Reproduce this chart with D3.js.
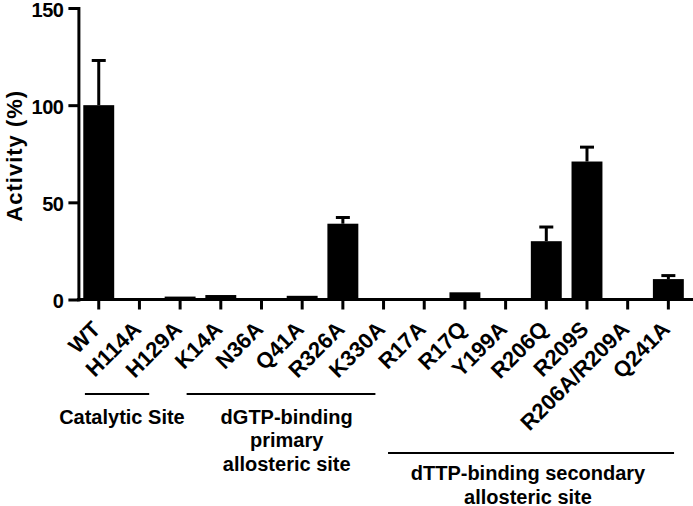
<!DOCTYPE html>
<html>
<head>
<meta charset="utf-8">
<script src="https://cdn.jsdelivr.net/npm/d3@7"></script>
<style>
  html, body { margin: 0; padding: 0; background: #fff; }
  svg { display: block; }
  text { font-family: "Liberation Sans", Arial, Helvetica, sans-serif; font-weight: bold; fill: #000; }
</style>
</head>
<body>
<svg id="chart" width="693" height="506"></svg>
<script>
// ---- data ----
const categories = ["WT","H114A","H129A","K14A","N36A","Q41A","R326A","K330A","R17A","R17Q","Y199A","R206Q","R209S","R206A/R209A","Q241A"];
const activity   = [100, 0, 1.5, 2.3, 0, 1.9, 39, 0, 0, 3.7, 0, 30, 71, 0, 10.5];
const errorUpper = [23, 0, 0, 0, 0, 0, 3.2, 0, 0, 0, 0, 7.3, 7.4, 0, 1.8];
const yTicks = [0, 50, 100, 150];
const yLabel = "Activity (%)";
// group annotations, spans in category-index units
const groupNames = [["Catalytic Site"], ["dGTP-binding", "primary", "allosteric site"], ["dTTP-binding secondary", "allosteric site"]];
const groupStart = [0.16, 2.66, 7.61];
const groupEnd   = [1.74, 7.30, 14.64];
const groupCenter = [1.07, 5.12, 11.05];
const groupRow = [0, 0, 1];

// ---- layout ----
const svg = d3.select("#chart");
const plotLeft = 78.4, plotRight = 688.7, plotTop = 8, plotBottom = 299.5;

const x = d3.scaleBand().domain(categories).range([plotLeft, plotRight]).paddingInner(0.24).paddingOuter(0.12);
const y = d3.scaleLinear().domain([0, 150]).range([plotBottom, plotTop]);
const gx = d3.scaleLinear().domain([0, categories.length]).range([plotLeft, plotRight]);

// bars
svg.append("g").selectAll("rect").data(categories).join("rect")
  .attr("x", d => x(d))
  .attr("width", x.bandwidth())
  .attr("y", (d, i) => y(activity[i]))
  .attr("height", (d, i) => y(0) - y(activity[i]))
  .attr("fill", "#000");

// error bars
const eb = svg.append("g").attr("stroke", "#000").attr("stroke-width", 3);
categories.forEach((c, i) => {
  if (errorUpper[i] <= 0) return;
  const cx = x(c) + x.bandwidth() / 2;
  eb.append("line").attr("x1", cx).attr("x2", cx)
    .attr("y1", y(activity[i])).attr("y2", y(activity[i] + errorUpper[i]));
  eb.append("line").attr("x1", cx - 7).attr("x2", cx + 7)
    .attr("y1", y(activity[i] + errorUpper[i])).attr("y2", y(activity[i] + errorUpper[i]));
});

// y axis
const yAxis = svg.append("g").attr("transform", `translate(${plotLeft},0)`)
  .call(d3.axisLeft(y).tickValues(yTicks).tickSize(10).tickSizeOuter(0).tickPadding(5));
yAxis.select(".domain").attr("stroke-width", 3).attr("stroke-linecap", "square");
yAxis.selectAll(".tick line").attr("stroke-width", 3);
yAxis.selectAll(".tick text")
  .attr("dy", "0.42em")
  .style("font-size", "20px")
  .style("letter-spacing", "-0.5px")
  .style("font-family", "'Liberation Sans', Arial, sans-serif")
  .style("font-weight", "bold");

// x axis
const xAxis = svg.append("g").attr("transform", `translate(0,${y(0)})`)
  .call(d3.axisBottom(x).tickSize(10).tickSizeOuter(0).tickFormat(""));
xAxis.select(".domain").remove();
xAxis.selectAll(".tick line").attr("stroke-width", 3);
svg.append("line").attr("x1", plotLeft).attr("x2", plotRight + 3).attr("y1", y(0)).attr("y2", y(0))
  .attr("stroke", "#000").attr("stroke-width", 3).attr("stroke-linecap", "square");

// x labels rotated
svg.append("g").selectAll("text").data(categories).join("text")
  .attr("transform", d => `translate(${x(d) + x.bandwidth() / 2 + 3},${y(0) + 31}) rotate(-45)`)
  .attr("text-anchor", "end")
  .style("font-size", "22px")
  .text(d => d);

// y label
svg.append("text")
  .attr("transform", `translate(22,${(y(0) + y(150)) / 2 + 2}) rotate(-90)`)
  .attr("text-anchor", "middle")
  .style("font-size", "22px")
  .style("letter-spacing", "1px")
  .text(yLabel);

// group annotations
const lineY = [394, 453];
const textY = [423.5, 480];
groupNames.forEach((lines, gi) => {
  const r = groupRow[gi];
  svg.append("line")
    .attr("x1", gx(groupStart[gi])).attr("x2", gx(groupEnd[gi]))
    .attr("y1", lineY[r]).attr("y2", lineY[r])
    .attr("stroke", "#000").attr("stroke-width", 2);
  const t = svg.append("text").attr("text-anchor", "middle").style("font-size", "20px");
  lines.forEach((ln, li) => {
    t.append("tspan").attr("x", gx(groupCenter[gi])).attr("y", textY[r] + li * 23.5).text(ln);
  });
});
</script>
</body>
</html>
